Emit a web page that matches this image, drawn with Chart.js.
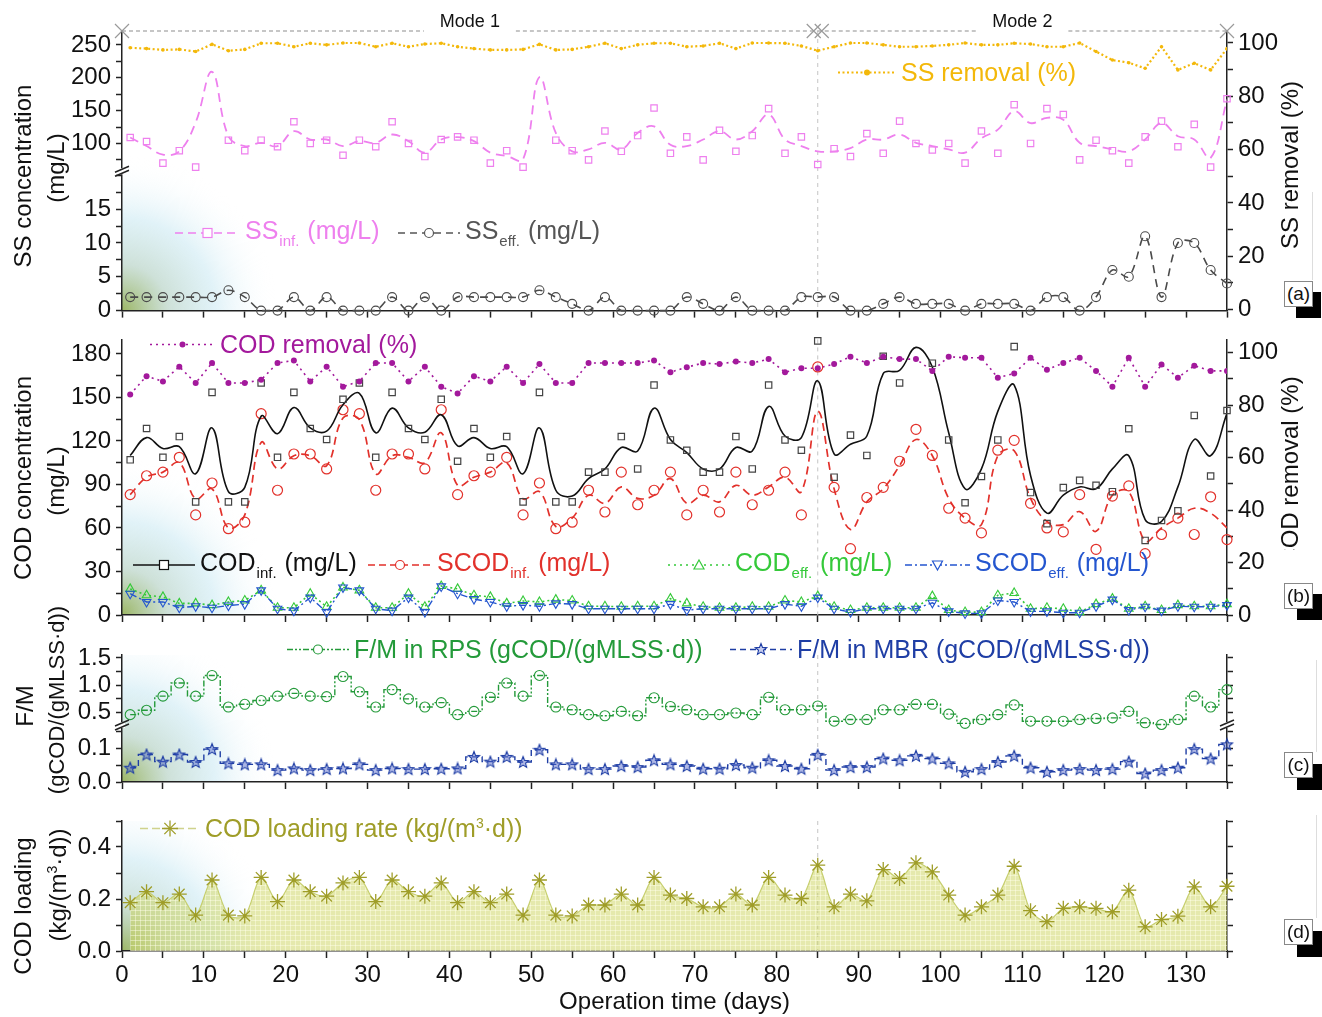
<!DOCTYPE html>
<html>
<head>
<meta charset="utf-8">
<script src="https://cdn.jsdelivr.net/npm/chart.js@4.4.1/dist/chart.umd.min.js"></script>
<style>
body { margin: 0; background: #fff; font-family: "Liberation Sans", Arial, sans-serif; }
#page { position: relative; width: 1322px; height: 1017px; overflow: hidden; background: #fff; }
canvas { position: absolute; left: 0; }
.t { position: absolute; white-space: nowrap; transform: translate(-50%, -50%) rotate(-90deg); font-size: 24px; color: #111; line-height: 1; }
.lg { position: absolute; display: flex; align-items: center; white-space: nowrap; font-size: 25px; line-height: 1; transform: translateY(-50%); }
.lg svg { margin-right: 5px; }
.lg sub { font-size: 15px; vertical-align: -7px; margin: 0 1px; }
.lg sup { font-size: 14px; vertical-align: 9px; }
.tag { position: absolute; width: 27px; height: 24px; border: 1px solid #888; background: #fff; font-size: 19px; text-align: center; line-height: 24px; color: #111; }
.blk { position: absolute; width: 25px; height: 26px; background: #000; }
.vl { position: absolute; width: 1px; background: #ddd; }
#clipB { position: absolute; left: 1270px; top: 360px; width: 40px; height: 190px; overflow: hidden; }
</style>
</head>
<body>
<div id="page">
  <canvas id="cA" width="1322" height="330" style="top:0"></canvas>
  <canvas id="cB" width="1322" height="315" style="top:320px"></canvas>
  <canvas id="cC" width="1322" height="167" style="top:635px"></canvas>
  <canvas id="cD" width="1322" height="217" style="top:800px"></canvas>

  <div class="t" style="left:23px;top:176px">SS concentration</div>
  <div class="t" style="left:56px;top:168px">(mg/L)</div>
  <div class="t" style="left:23px;top:478px">COD concentration</div>
  <div class="t" style="left:56px;top:481px">(mg/L)</div>
  <div class="t" style="left:25px;top:706px">F/M</div>
  <div class="t" style="left:57px;top:700px;font-size:22px">(gCOD/(gMLSS·d))</div>
  <div class="t" style="left:23px;top:906px">COD loading</div>
  <div class="t" style="left:57px;top:885px">(kg/(m<sup style="font-size:14px">3</sup>·d))</div>

  <div class="t" style="left:1290px;top:165px">SS removal (%)</div>
  <div id="clipB"><div class="t" style="left:20px;top:111px">COD removal (%)</div></div>

  <div class="vl" style="left:1312px;top:192px;height:88px"></div>
  <div class="vl" style="left:1316px;top:660px;height:92px"></div>
  <div class="vl" style="left:1316px;top:815px;height:103px"></div>
  <div class="blk" style="left:1296px;top:292px"></div><div class="tag" style="left:1284px;top:281px">(a)</div>
  <div class="blk" style="left:1297px;top:594px"></div><div class="tag" style="left:1284px;top:583px">(b)</div>
  <div class="blk" style="left:1297px;top:764px"></div><div class="tag" style="left:1284px;top:752px">(c)</div>
  <div class="blk" style="left:1297px;top:931px"></div><div class="tag" style="left:1284px;top:919px">(d)</div>
</div>
<script>
"use strict";
// operation days of each measurement
const days = [1,3,5,7,9,11,13,15,17,19, 21,23,25,27,29,31,33,35,37,39,
  41,43,45,47,49,51,53,55,57,59, 61,63,65,67,69,71,73,75,77,79,
  81,83,85,87,89,91,93,95,97,99, 101,103,105,107,109,111,113,115,117,119,
  121,123,125,127,129,131,133,135];

/* (a) suspended solids */
const ssInf = [109,103,70,89,64,null,105,89,105,95, 133,100,105,82,105,95,133,100,80,106,
  110,105,70,89,64,null,105,89,75,119, 88,112,154,85,110,75,120,88,112,153,
  85,110,68,92,80,115,85,134,100,90, 100,70,119,85,159,100,153,144,75,105,
  89,70,110,134,95,129,64,168];
const ssInfCurve = [109,96,83,88,132,209,111,96,101,96, 118.7,106,106,96,103.5,101,113.6,103.5,86,106,
  109.6,103.5,86,80.8,75.8,201,116,88,91,101, 91,116,126,98,96,106,118.7,106,118.7,144,
  106,96,88,88,93,106,106,113.6,101,96, 91,86,108,121,149,131,139,136,101,96,
  91,88,106,131,111,106,78,166.6];
const ssEff = [2,2,2,2,2,2,3,2,0,0, 2,0,2,0,0,0,2,0,2,0,
  2,2,2,2,2,3,2,1,0,2, 0,0,0,0,2,1,0,2,0,0,
  0,2,2,2,0,0,1,2,1,1, 1,0,1,1,1,0,2,2,0,2,
  6,5,11,2,10,10,6,4];
const ssRemoval = [98.2,97.9,97.4,97.6,96.8,99.5,97.1,97.6,99.9,99.9, 98.6,99.9,99.3,100,100,98.6,99.9,98.6,99.6,99.9,
  98.6,97.9,97.4,97.4,97.6,99.5,97.4,97.6,98.6,99.9, 97.9,99.3,99.9,99.9,98.6,98.9,99.9,97.9,100,100,
  99.9,98.9,97.1,98.6,100,100,99.3,98.6,98.6,98.9, 99.3,100,99.3,99.3,99.9,99.6,98.6,98.6,100,96.8,
  93.6,92.6,90.5,98.6,89.9,92.4,89.9,97.9];

/* (b) COD */
const codInf = [107,128.6,108.7,123,78,153.5,78,78,160,108.7, 153.5,128.6,121,148.7,160,108.7,153.5,128.6,121,148.7,
  106,128.6,108.7,123,78,153.5,78,78,98.5,98.5, 123,100.7,158.5,120.7,113.6,98.5,98.5,123,100.7,158.5,
  120.7,113.6,189,95,124,110,178.4,160,null,173.6, 120.7,77.4,95.5,120.7,185,84.4,63,87.8,92.8,89.4,
  85,128.4,51.4,65.2,71.8,137.6,95.8,141];
const codInfCurve = [110,122.3,114.8,116,97.4,129,85,88,137,125, 143,129,126.8,145,152.8,125.6,142.6,129,126,138,
  116.6,122.3,114.8,116,97.4,129,86,82,94,100.7, 115.5,113,142.6,121,112,100.7,100.7,115.5,113,143.8,
  123.4,122.3,161.4,111,117.7,123.4,166.4,168.7,184.5,171, 125.6,87,100.7,140.4,158.5,96.2,70.2,82.6,88.3,87,
  100.7,109.8,65.7,64.5,88.3,121,109.8,139];
const scodInf = [83,96,98.5,108.7,69,91,59.5,64,138.8,86, 111,111,100.7,141.5,138.8,86,111,111,100.7,141.5,
  83,96,98.5,108.7,69,91,59.5,64,86,71, 98.5,76,86,98.5,69,86,71,98.5,76,86,
  98.5,69,171,88,45.7,81,88,106,128,110, 73.6,66.8,56.6,113.6,120.4,77,60,57.3,83,45.3,
  82,89,42.3,55.5,66.8,55.5,81.5,52];
const scodInfCurve = [83,95,98.5,105,80,87,60,69,119,100.7, 109.8,109.8,103,135.8,134.7,97.4,109.8,108.7,105,125.6,
  89.4,95,98.5,105,80,85,61,66.8,82.6,77, 88.3,80.4,82.6,94,77,82.6,78,89.4,82.6,88.3,
  95,85,140.4,87,58.9,78,87,103,121,109.8, 80.4,66.8,62.3,109.8,113.2,80.4,64.5,62.3,71.3,57.7,
  82.6,85,51,60,66.8,73.6,70.2,60];
const codEff = [18,13.6,12.5,8,8,6.8,9,10,17,5, 5,14.7,5.7,19,17,5,5,14.7,5.7,20,
  18,13.6,12.5,8,9.7,9,10.6,10,6,6, 5.7,6,6,11.3,8,5.7,5,5,5.7,5.7,
  10,9,13,5.7,3.4,5,5,5,5,13, 3.4,2,2,13.6,15.2,4.3,5,4.3,2,7.5,
  11.3,4.3,6,3.4,6.8,6,6,7.5];
const scodEff = [14.7,9,9,5,6,5,6.5,7.5,17,4.3, 3,12,2,19,17,4.3,3,12,2,19.7,
  14.7,11,9,6,6.8,6,8,7.5,4.3,4.3, 4.3,4.3,4.3,7.5,3.4,4.3,4.3,4.3,4.3,4.3,
  7.5,6,12,4.3,2,4.3,4.3,4.3,4.3,8.4, 2.5,1.1,1.1,10,9,2.5,2.5,1.6,1.6,6,
  10.6,3.4,5.7,3,6,5.7,5.7,6.8];
const codRemoval = [84,91,89,94.6,88.4,96,88.4,88.4,89.6,96, 97,89,94.6,87,89,96,96,89,94.6,87,
  84.4,91,89,94.6,88.4,95.6,88.4,88.4,96,96, 96,96,97,92.5,94.4,96,95.6,96.6,96,97.5,
  92.5,94,94,95.6,98.4,96,98.4,97.5,97.5,93, 98.4,98,98,90.4,92,98,93.4,96,98,93,
  87,98,87,95.4,90.4,95,93,93];

/* (c) F/M */
const fmRps = [0.46,0.54,0.80,1.04,0.80,1.18,0.60,0.65,0.72,0.80, 0.85,0.80,0.79,1.16,0.88,0.60,0.92,0.75,0.60,0.68,
  0.46,0.52,0.78,1.04,0.80,1.18,0.60,0.55,0.46,0.44, 0.52,0.44,0.77,0.61,0.55,0.46,0.46,0.49,0.46,0.78,
  0.55,0.55,0.62,0.34,0.37,0.37,0.55,0.55,0.65,0.65, 0.47,0.30,0.37,0.46,0.64,0.34,0.34,0.34,0.37,0.39,
  0.40,0.52,0.31,0.28,0.37,0.80,0.60,0.92];
const fmMbr = [0.042,0.081,0.06,0.081,0.059,0.097,0.055,0.052,0.052,0.035, 0.04,0.035,0.038,0.04,0.052,0.035,0.04,0.038,0.038,0.039,
  0.04,0.074,0.06,0.074,0.059,0.095,0.052,0.052,0.038,0.038, 0.047,0.044,0.064,0.052,0.047,0.039,0.039,0.05,0.042,0.064,
  0.047,0.039,0.08,0.035,0.044,0.044,0.069,0.064,0.077,0.069, 0.055,0.03,0.038,0.059,0.077,0.042,0.03,0.035,0.038,0.035,
  0.038,0.06,0.025,0.035,0.042,0.097,0.069,0.111];

/* (d) COD loading rate */
const codLoading = [0.186,0.228,0.186,0.219,0.138,0.273,0.138,0.135,0.283,0.19, 0.273,0.228,0.211,0.262,0.283,0.19,0.273,0.228,0.211,0.262,
  0.186,0.228,0.186,0.219,0.138,0.273,0.138,0.135,0.177,0.177, 0.219,0.177,0.283,0.215,0.202,0.17,0.17,0.219,0.177,0.283,
  0.215,0.202,0.33,0.17,0.219,0.193,0.313,0.279,0.339,0.304, 0.215,0.138,0.17,0.215,0.326,0.155,0.113,0.164,0.17,0.164,
  0.151,0.234,0.093,0.121,0.134,0.247,0.17,0.249];

const modeBounds = [0, 85, 135];
const modeNames = ["Mode 1", "Mode 2"];
const modeSwitchDay = 85;

const FAM = '"Liberation Sans", Arial, sans-serif';
const INK = "#222";
Chart.defaults.font.family = FAM;
Chart.defaults.color = "#111";

function pts(arr) {
  return days.map(function(d, i) { return {x: d, y: arr[i]}; });
}

function xAxis(showLabels, h) {
  return {
    type: "linear", min: 0, max: 135,
    border: {color: INK, width: 1.5},
    grid: {drawOnChartArea: false, tickLength: 7, tickColor: INK, tickWidth: 1.5},
    ticks: {stepSize: 5, autoSkip: false, maxRotation: 0, font: {size: 24}, padding: 3, color: "#111",
      callback: function(v) { return (showLabels && v % 10 === 0 && v <= 130) ? v : ""; }},
    title: showLabels ? {display: true, text: "Operation time (days)", font: {size: 24}, color: "#111", padding: 0} : {display: false},
    afterFit: function(s) { s.height = h; }
  };
}

function yAxis(o) {
  return {
    type: "linear", position: o.pos || "left", min: o.min, max: o.max,
    stack: o.stack, stackWeight: o.sw || 1, weight: o.w || 0,
    border: {color: INK, width: 1.5},
    grid: {drawOnChartArea: false, tickLength: 6, tickColor: INK, tickWidth: 1.5},
    ticks: {stepSize: o.step, includeBounds: false, autoSkip: false, font: {size: 24}, padding: 5, color: "#111",
      callback: function(v) { return o.label ? o.label(v) : ""; }},
    afterFit: function(s) { s.width = (o.pos === "right") ? 95 : 122; }
  };
}

function cross(ctx, x, y, r) {
  ctx.beginPath();
  ctx.moveTo(x - r, y - r); ctx.lineTo(x + r, y + r);
  ctx.moveTo(x - r, y + r); ctx.lineTo(x + r, y - r);
  ctx.stroke();
}

// corner glow, switch line, axis breaks and mode header
const deco = {
  id: "deco",
  beforeDraw: function(chart) {
    const ctx = chart.ctx, a = chart.chartArea;
    ctx.save();
    ctx.beginPath(); ctx.rect(a.left, a.top, a.right - a.left, a.bottom - a.top); ctx.clip();
    const g = ctx.createRadialGradient(a.left, a.bottom, 0, a.left, a.bottom, 155);
    g.addColorStop(0, "rgba(150,178,92,0.95)");
    g.addColorStop(0.3, "rgba(185,212,200,0.7)");
    g.addColorStop(0.6, "rgba(200,232,242,0.55)");
    g.addColorStop(1, "rgba(255,255,255,0)");
    ctx.fillStyle = g;
    ctx.fillRect(a.left, a.bottom - 160, 160, 160);
    ctx.restore();
  },
  beforeDatasetsDraw: function(chart) {
    const ctx = chart.ctx, a = chart.chartArea;
    const x = chart.scales.x.getPixelForValue(modeSwitchDay);
    ctx.save();
    ctx.strokeStyle = "#c4c4c4"; ctx.lineWidth = 1; ctx.setLineDash([4, 4]);
    ctx.beginPath(); ctx.moveTo(x, a.top); ctx.lineTo(x, a.bottom); ctx.stroke();
    ctx.restore();
  },
  afterDraw: function(chart, args, opt) {
    const ctx = chart.ctx, a = chart.chartArea;
    (opt.breaks || []).forEach(function(b) {
      const y = chart.scales[b.axis].bottom;
      const x = b.right ? a.right : a.left;
      ctx.save();
      ctx.fillStyle = "#fff";
      ctx.fillRect(x - 3, y - 3, 6, 6);
      ctx.strokeStyle = INK; ctx.lineWidth = 1.5;
      ctx.beginPath();
      ctx.moveTo(x - 7, y + 1); ctx.lineTo(x + 7, y - 5);
      ctx.moveTo(x - 7, y + 5); ctx.lineTo(x + 7, y - 1);
      ctx.stroke();
      ctx.restore();
    });
    if (opt.modes) {
      const xs = chart.scales.x, y = a.top;
      ctx.save();
      ctx.font = "18px " + FAM;
      ctx.fillStyle = "#111"; ctx.textAlign = "center"; ctx.textBaseline = "middle";
      ctx.strokeStyle = "#b4b4b4"; ctx.lineWidth = 1.3; ctx.setLineDash([4, 3]);
      modeNames.forEach(function(name, i) {
        const x1 = xs.getPixelForValue(modeBounds[i]), x2 = xs.getPixelForValue(modeBounds[i + 1]);
        const mid = (x1 + x2) / 2, half = ctx.measureText(name).width / 2 + 16;
        ctx.beginPath();
        ctx.moveTo(x1, y); ctx.lineTo(mid - half, y);
        ctx.moveTo(mid + half, y); ctx.lineTo(x2, y);
        ctx.stroke();
        ctx.fillText(name, mid, y - 9);
      });
      ctx.setLineDash([]); ctx.strokeStyle = "#9a9a9a"; ctx.lineWidth = 1.2;
      modeBounds.forEach(function(bd, i) {
        const x = xs.getPixelForValue(bd);
        if (i === 1) { cross(ctx, x - 4, y, 7); cross(ctx, x + 4, y, 7); }
        else cross(ctx, x, y, 7);
      });
      ctx.restore();
    }
  }
};
Chart.register(deco);

function starImg(stroke, fill) {
  const c = document.createElement("canvas");
  c.width = 14; c.height = 14;
  const g = c.getContext("2d");
  g.beginPath();
  for (let i = 0; i < 10; i++) {
    const r = i % 2 ? 2.6 : 6, ang = -Math.PI / 2 + i * Math.PI / 5;
    g.lineTo(7 + r * Math.cos(ang), 7.5 + r * Math.sin(ang));
  }
  g.closePath();
  g.fillStyle = fill; g.fill();
  g.strokeStyle = stroke; g.lineWidth = 1.1; g.stroke();
  return c;
}

function gridFill() {
  const c = document.createElement("canvas");
  c.width = 5; c.height = 5;
  const g = c.getContext("2d");
  g.fillStyle = "rgba(204,212,92,0.5)"; g.fillRect(0, 0, 5, 5);
  g.fillStyle = "rgba(255,255,235,0.45)"; g.fillRect(0, 0, 5, 1); g.fillRect(0, 0, 1, 5);
  return g.createPattern(c, "repeat");
}

const base = {
  responsive: false, animation: false, devicePixelRatio: 1, events: [],
  plugins: {legend: {display: false}, tooltip: {enabled: false}}
};
function opts(extra) {
  return Object.assign({}, base, extra, {plugins: Object.assign({}, base.plugins, extra.plugins)});
}

const PINK = "#ee80ee", GREY = "#4a4a4a", GOLD = "#f3b80a";
const RED = "#e2312b", GREEN = "#35c93a", BLUE = "#2456cf", PURPLE = "#a3199c";
const RPSG = "#249a3a", MBRB = "#1f3ea5", OLIVE = "#9f9d28";

/* ---------- panel (a) ---------- */
new Chart(document.getElementById("cA"), {
  type: "line",
  data: {datasets: [
    {data: pts(ssInf), yAxisID: "yTop", showLine: false, pointStyle: "rect", pointRadius: 4.5,
      pointBorderColor: PINK, pointBackgroundColor: "rgba(0,0,0,0)", pointBorderWidth: 1.2, clip: false},
    {data: pts(ssInfCurve), yAxisID: "yTop", borderColor: PINK, borderWidth: 1.8, borderDash: [9, 6],
      tension: 0.4, pointRadius: 0},
    {data: pts(ssEff), yAxisID: "yBot", borderColor: GREY, borderWidth: 1.6, borderDash: [8, 6], tension: 0.35,
      pointStyle: "circle", pointRadius: 4.5, pointBorderColor: GREY, pointBackgroundColor: "rgba(0,0,0,0)",
      pointBorderWidth: 1.1, clip: false},
    {data: pts(ssRemoval), yAxisID: "yR", borderColor: GOLD, borderWidth: 2.2, borderDash: [2, 2.5],
      pointRadius: 1.8, pointBackgroundColor: GOLD, pointBorderWidth: 0}
  ]},
  options: opts({
    layout: {padding: {top: 31, left: 0, right: 0, bottom: 0}},
    scales: {
      x: xAxis(false, 18),
      yBot: yAxis({min: 0, max: 20.6, step: 2.5, stack: "L", sw: 140, w: 1,
        label: function(v) { return (v % 5 === 0 && v <= 15) ? v : ""; }}),
      yTop: yAxis({min: 57.6, max: 271.2, step: 25, stack: "L", sw: 141, w: 2,
        label: function(v) { return (v % 50 === 0 && v >= 100) ? v : ""; }}),
      yR: yAxis({pos: "right", min: -0.4, max: 104.5, step: 10,
        label: function(v) { return v % 20 === 0 ? v : ""; }})
    },
    plugins: {deco: {modes: true, breaks: [{axis: "yTop"}]}}
  })
});

/* ---------- panel (b) ---------- */
new Chart(document.getElementById("cB"), {
  type: "line",
  data: {datasets: [
    {data: pts(codRemoval), yAxisID: "yR", borderColor: PURPLE, borderWidth: 1.6, borderDash: [2, 4],
      pointRadius: 3, pointBackgroundColor: PURPLE, pointBorderWidth: 0},
    {data: pts(scodEff), borderColor: BLUE, borderWidth: 1.4, borderDash: [7, 3, 2, 3],
      pointStyle: "triangle", pointRotation: 180, pointRadius: 5, pointBorderColor: BLUE,
      pointBackgroundColor: "rgba(0,0,0,0)", pointBorderWidth: 1.1, clip: false},
    {data: pts(codEff), borderColor: GREEN, borderWidth: 1.6, borderDash: [2, 3],
      pointStyle: "triangle", pointRadius: 5, pointBorderColor: GREEN,
      pointBackgroundColor: "rgba(0,0,0,0)", pointBorderWidth: 1.1, clip: false},
    {data: pts(codInf), showLine: false, pointStyle: "rect", pointRadius: 4.5, pointBorderColor: "#444",
      pointBackgroundColor: "rgba(0,0,0,0)", pointBorderWidth: 1.2, clip: false},
    {data: pts(codInfCurve), borderColor: "#111", borderWidth: 1.6, tension: 0.4, pointRadius: 0},
    {data: pts(scodInf), showLine: false, pointStyle: "circle", pointRadius: 5, pointBorderColor: RED,
      pointBackgroundColor: "rgba(0,0,0,0)", pointBorderWidth: 1.2, clip: false},
    {data: pts(scodInfCurve), borderColor: RED, borderWidth: 1.7, borderDash: [8, 5], tension: 0.4, pointRadius: 0}
  ]},
  options: opts({
    layout: {padding: {top: 15, left: 0, right: 0, bottom: 0}},
    scales: {
      x: xAxis(false, 20),
      y: yAxis({min: 0, max: 190, step: 15, label: function(v) { return v % 30 === 0 ? v : ""; }}),
      yR: yAxis({pos: "right", min: 0, max: 105, step: 10, label: function(v) { return v % 20 === 0 ? v : ""; }})
    },
    plugins: {deco: {}}
  })
});

/* ---------- panel (c) ---------- */
const half = function(v) { return Math.round(v * 4) % 2 === 0 ? v.toFixed(1) : ""; };
const tenth = function(v) { return Math.round(v * 20) % 2 === 0 ? v.toFixed(1) : ""; };
new Chart(document.getElementById("cC"), {
  type: "line",
  data: {datasets: [
    {data: pts(fmRps), yAxisID: "yTop", borderColor: RPSG, borderWidth: 1.4, borderDash: [6, 2, 2, 2, 2, 2],
      stepped: "middle", pointStyle: "circle", pointRadius: 5, pointBorderColor: RPSG,
      pointBackgroundColor: "rgba(0,0,0,0)", pointBorderWidth: 1.1, clip: false},
    {data: pts(fmMbr), yAxisID: "yBot", borderColor: MBRB, borderWidth: 1.4, borderDash: [6, 4],
      stepped: "middle", pointStyle: starImg(MBRB, "rgba(80,100,200,0.45)"), clip: false}
  ]},
  options: opts({
    layout: {padding: {top: 20, left: 0, right: 0, bottom: 0}},
    scales: {
      x: xAxis(false, 20),
      yBot: yAxis({min: 0, max: 0.168, step: 0.05, stack: "L", sw: 57, w: 1, label: tenth}),
      yTop: yAxis({min: 0.27, max: 1.555, step: 0.25, stack: "L", sw: 70, w: 2, label: half}),
      rTop: yAxis({pos: "right", min: 0.27, max: 1.555, step: 0.25, stack: "R", sw: 70, w: 1}),
      rBot: yAxis({pos: "right", min: 0, max: 0.168, step: 0.05, stack: "R", sw: 57, w: 2})
    },
    plugins: {deco: {breaks: [{axis: "yTop"}, {axis: "rTop", right: true}]}}
  })
});

/* ---------- panel (d) ---------- */
new Chart(document.getElementById("cD"), {
  type: "line",
  data: {datasets: [
    {data: pts(codLoading), borderColor: "rgba(196,204,104,0.95)", borderWidth: 1.2, tension: 0.3,
      fill: "origin", backgroundColor: gridFill(),
      pointStyle: "star", pointRadius: 7.5, pointBorderColor: OLIVE, pointBorderWidth: 1.3, clip: false}
  ]},
  options: opts({
    layout: {padding: {top: 21, left: 0, right: 0, bottom: 0}},
    scales: {
      x: xAxis(true, 66),
      y: yAxis({min: 0, max: 0.5, step: 0.1,
        label: function(v) { return (Math.round(v * 10) % 2 === 0 && v < 0.45) ? v.toFixed(1) : ""; }}),
      yR: yAxis({pos: "right", min: 0, max: 0.5, step: 0.1})
    },
    plugins: {deco: {}}
  })
});

/* ---------- legends ---------- */
function sample(o) {
  const w = o.w || 62, cy = 11, cx = w / 2;
  let s = '<svg width="' + w + '" height="22" viewBox="0 0 ' + w + ' 22">';
  s += '<line x1="0" y1="' + cy + '" x2="' + w + '" y2="' + cy + '" stroke="' + (o.line || o.color) +
    '" stroke-width="' + (o.lw || 1.7) + '" stroke-dasharray="' + (o.dash || "none") + '"/>';
  const c = o.color;
  if (o.mark === "rect") s += '<rect x="' + (cx - 4.5) + '" y="6.5" width="9" height="9" fill="#fff" stroke="' + c + '" stroke-width="1.2"/>';
  if (o.mark === "circle") s += '<circle cx="' + cx + '" cy="' + cy + '" r="4.5" fill="#fff" stroke="' + c + '" stroke-width="1.2"/>';
  if (o.mark === "dot") s += '<circle cx="' + cx + '" cy="' + cy + '" r="3" fill="' + c + '"/>';
  if (o.mark === "triU") s += '<polygon points="' + cx + ',6 ' + (cx + 5) + ',15 ' + (cx - 5) + ',15" fill="#fff" stroke="' + c + '" stroke-width="1.2"/>';
  if (o.mark === "triD") s += '<polygon points="' + cx + ',16 ' + (cx + 5) + ',7 ' + (cx - 5) + ',7" fill="#fff" stroke="' + c + '" stroke-width="1.2"/>';
  if (o.mark === "star") {
    let p = "";
    for (let i = 0; i < 10; i++) {
      const r = i % 2 ? 2.6 : 6, ang = -Math.PI / 2 + i * Math.PI / 5;
      p += (cx + r * Math.cos(ang)).toFixed(2) + "," + (cy + r * Math.sin(ang)).toFixed(2) + " ";
    }
    s += '<polygon points="' + p + '" fill="#c6cdee" stroke="' + c + '" stroke-width="1.1"/>';
  }
  if (o.mark === "ast") {
    for (let i = 0; i < 4; i++) {
      const ang = i * Math.PI / 4, r = 8;
      s += '<line x1="' + (cx - r * Math.cos(ang)) + '" y1="' + (cy - r * Math.sin(ang)) + '" x2="' + (cx + r * Math.cos(ang)) +
        '" y2="' + (cy + r * Math.sin(ang)) + '" stroke="' + c + '" stroke-width="1.3"/>';
    }
  }
  return s + "</svg>";
}

const legends = [
  {left: 838, y: 72, w: 58, color: GOLD, mark: "dot", dash: "2,2.5", lw: 2.2, text: "SS removal (%)"},
  {left: 175, y: 233, w: 65, color: PINK, mark: "rect", dash: "8,5", text: "SS<sub>inf.</sub> (mg/L)"},
  {left: 398, y: 233, w: 62, color: "#555", mark: "circle", dash: "7,5", text: "SS<sub>eff.</sub> (mg/L)"},
  {left: 150, y: 344, w: 65, color: PURPLE, mark: "dot", dash: "2,4", text: "COD removal (%)"},
  {left: 133, y: 565, w: 62, color: "#111", mark: "rect", text: "COD<sub>inf.</sub> (mg/L)"},
  {left: 368, y: 565, w: 64, color: RED, mark: "circle", dash: "7,4", text: "SCOD<sub>inf.</sub> (mg/L)"},
  {left: 668, y: 565, w: 62, color: GREEN, mark: "triU", dash: "2,4", text: "COD<sub>eff.</sub> (mg/L)"},
  {left: 905, y: 565, w: 65, color: BLUE, mark: "triD", dash: "7,3,2,3", text: "SCOD<sub>eff.</sub> (mg/L)"},
  {left: 287, y: 649, w: 62, color: RPSG, mark: "circle", dash: "6,2,2,2,2,2", text: "F/M in RPS (gCOD/(gMLSS·d))"},
  {left: 730, y: 649, w: 62, color: MBRB, mark: "star", dash: "6,4", text: "F/M in MBR (gCOD/(gMLSS·d))"},
  {left: 140, y: 828, w: 60, color: OLIVE, line: "#cfd28c", mark: "ast", dash: "8,4", text: "COD loading rate (kg/(m<sup>3</sup>·d))"}
];
const page = document.getElementById("page");
legends.forEach(function(l) {
  const d = document.createElement("div");
  d.className = "lg";
  d.style.left = l.left + "px";
  d.style.top = l.y + "px";
  d.style.color = l.color;
  d.innerHTML = sample(l) + "<span>" + l.text + "</span>";
  page.appendChild(d);
});
</script>
</body>
</html>
